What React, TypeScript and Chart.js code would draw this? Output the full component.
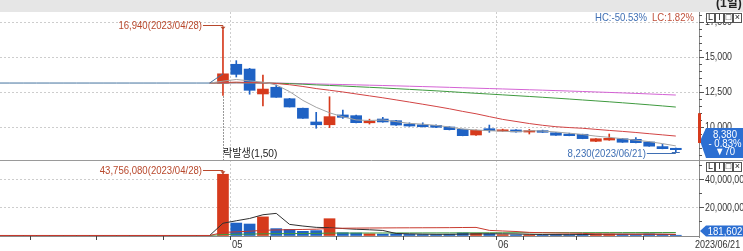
import React, { useEffect, useRef } from "react";
import { Chart, registerables } from "chart.js";
Chart.register(...registerables);

// ---------- data ----------
const tradingDays = [
  "2023/04/05", "2023/04/06", "2023/04/07", "2023/04/10", "2023/04/11", "2023/04/12", "2023/04/13", "2023/04/14",
  "2023/04/17", "2023/04/18", "2023/04/19", "2023/04/20", "2023/04/21", "2023/04/24", "2023/04/25", "2023/04/26",
  "2023/04/27", "2023/04/28", "2023/05/02", "2023/05/03", "2023/05/04", "2023/05/08", "2023/05/09", "2023/05/10",
  "2023/05/11", "2023/05/12", "2023/05/15", "2023/05/16", "2023/05/17", "2023/05/18", "2023/05/19", "2023/05/22",
  "2023/05/23", "2023/05/24", "2023/05/25", "2023/05/26", "2023/05/30", "2023/05/31", "2023/06/01", "2023/06/02",
  "2023/06/05", "2023/06/07", "2023/06/08", "2023/06/09", "2023/06/12", "2023/06/13", "2023/06/14", "2023/06/15",
  "2023/06/16", "2023/06/19", "2023/06/20", "2023/06/21",
];
const firstTradeDay = "2023/04/28";
const haltedPrice = 13140;

const opens = [13120, 14480, 14140, 12360, 12840, 12020, 11340, 10360, 10160, 10860, 10810, 10300, 10570, 10450, 10210, 10160, 10120, 10000, 9840, 9430, 9880, 9710, 9790, 9640, 9740, 9590, 9500, 9480, 8980, 9070, 9160, 9120, 8930, 8600, 8480];
const highs = [16940, 14740, 14190, 13710, 13000, 12050, 11360, 11050, 12160, 11210, 10850, 10560, 10690, 10470, 10300, 10300, 10150, 10020, 9850, 9800, 10140, 9850, 9820, 9830, 9780, 9600, 9560, 9490, 9170, 9500, 9180, 9240, 8940, 8780, 8500];
const lows = [12250, 13570, 12340, 11500, 12120, 11430, 10620, 9910, 9950, 10620, 10300, 10210, 10340, 10120, 10050, 10000, 9960, 9790, 9370, 9400, 9620, 9690, 9630, 9500, 9610, 9400, 9370, 9160, 8950, 9050, 8900, 8870, 8620, 8440, 8230];
const closes = [13800, 13760, 12620, 12710, 12120, 11430, 10620, 10160, 10740, 10690, 10310, 10420, 10360, 10140, 10070, 10020, 9980, 9810, 9380, 9760, 9740, 9800, 9650, 9740, 9620, 9410, 9380, 9170, 9160, 9190, 8910, 8880, 8630, 8450, 8380];
const volumes = [43756080, 8900000, 8200000, 13300000, 4900000, 4400000, 3000000, 3500000, 12000000, 2000000, 1800000, 1200000, 1000000, 1200000, 800000, 700000, 700000, 900000, 1800000, 1500000, 1200000, 600000, 500000, 600000, 500000, 800000, 600000, 1000000, 1200000, 1000000, 900000, 700000, 1100000, 800000, 181602];

const priceTicks = [10000, 12500, 15000, 17500];
const volumeTicks = [20000000, 40000000];
const priceMaPeriods = [5, 20, 60, 120];
const volumeMaPeriods = [5, 20, 60];
const ratingLabel = "(1일)";
const eventLabel = "락발생(1,50)";

// ---------- helpers ----------
const RED = "#d63a1c";
const BLUE = "#1f62c4";
const FONT = '"Liberation Sans", Arial, "Noto Sans CJK KR", sans-serif';

function movingAverage(series: number[], period: number) {
  return series.map((_, i) => {
    let s = 0;
    for (let j = i - period + 1; j <= i; j++) s += series[Math.max(j, 0)];
    return s / period;
  });
}
const fmt = (v: number) => Math.round(v).toLocaleString("en-US");

function txt(ctx: CanvasRenderingContext2D, s: string, x: number, y: number, o: any = {}) {
  const size = o.size ?? 11;
  const sx = o.sx ?? 0.87;
  ctx.save();
  ctx.font = `${o.bold ? "bold " : ""}${size}px ${FONT}`;
  ctx.fillStyle = o.color ?? "#333";
  ctx.textBaseline = "middle";
  ctx.textAlign = "left";
  const w = ctx.measureText(s).width * sx;
  const x0 = o.align === "right" ? x - w : o.align === "center" ? x - w / 2 : x;
  ctx.translate(x0, y);
  ctx.scale(sx, 1);
  ctx.fillText(s, 0, 0);
  ctx.restore();
  return w;
}

export default function App() {
  const ref = useRef<HTMLCanvasElement>(null);

  useEffect(() => {
    const canvas = ref.current!;
    const first = tradingDays.indexOf(firstTradeDay);
    const n = tradingDays.length;
    const fullCloses = tradingDays.map((_, i) => (i < first ? haltedPrice : closes[i - first]));
    const fullVolumes = tradingDays.map((_, i) => (i < first ? 0 : volumes[i - first]));
    const idx = closes.map((_, k) => k + first);
    const up = closes.map((c, k) => c >= opens[k]);
    const colors = up.map((u) => (u ? RED : BLUE));

    const priceMa = priceMaPeriods.map((p) => movingAverage(fullCloses, p));
    const volMa = volumeMaPeriods.map((p) => movingAverage(fullVolumes, p));
    const toPts = (arr: number[], from: number) => arr.map((v, i) => ({ x: i, y: v })).filter((p) => p.x >= from);

    const priceMaColors = ["#a3a3a3", "#d24444", "#3f9a3f", "#d462d4"];
    const volMaColors = ["#303030", "#c83a2e", "#3f9a3f"];

    const lineDs = (data: any[], color: string, axis: string) => ({
      type: "line" as const,
      data,
      borderColor: color,
      borderWidth: 1,
      pointRadius: 0,
      tension: 0,
      yAxisID: axis,
    });

    const datasets: any[] = [
      lineDs(toPts(fullCloses, 0).filter((p) => p.x <= first), "#44729e", "y"),
      lineDs(toPts(priceMa[0], first - 1), priceMaColors[0], "y"),
      lineDs(toPts(priceMa[1], first - 1), priceMaColors[1], "y"),
      lineDs(toPts(priceMa[2], first - 1), priceMaColors[2], "y"),
      lineDs(toPts(priceMa[3], first - 1), priceMaColors[3], "y"),
      {
        type: "bar",
        data: idx.map((x, k) => ({ x, y: [opens[k], closes[k]] })),
        backgroundColor: colors,
        barThickness: 11,
        grouped: false,
        minBarLength: 1,
        borderWidth: 0,
        yAxisID: "y",
      },
      {
        type: "bar",
        data: idx.map((x, k) => ({ x, y: [lows[k], highs[k]] })),
        backgroundColor: colors,
        barThickness: 1,
        grouped: false,
        borderWidth: 0,
        yAxisID: "y",
      },
      lineDs(toPts(volMa[1], 0), volMaColors[1], "yv"),
      lineDs(toPts(volMa[0], 0), volMaColors[0], "yv"),
      lineDs(toPts(volMa[2], 0), volMaColors[2], "yv"),
      {
        type: "bar",
        data: idx.map((x, k) => ({ x, y: volumes[k] })),
        backgroundColor: colors,
        barThickness: 11,
        grouped: false,
        borderWidth: 0,
        yAxisID: "yv",
      },
    ];

    const deco = {
      id: "deco",
      beforeDatasetsDraw(chart: any) {
        const { ctx, scales } = chart;
        const xs = scales.x, ys = scales.y, yv = scales.yv;
        ctx.save();
        ctx.lineWidth = 1;
        ctx.strokeStyle = "#cdcdcd";
        ctx.setLineDash([2, 2]);
        for (const t of priceTicks) {
          const y = Math.round(ys.getPixelForValue(t)) + 0.5;
          ctx.beginPath(); ctx.moveTo(0, y); ctx.lineTo(699, y); ctx.stroke();
        }
        for (const t of volumeTicks) {
          const y = Math.round(yv.getPixelForValue(t)) + 0.5;
          ctx.beginPath(); ctx.moveTo(0, y); ctx.lineTo(699, y); ctx.stroke();
        }
        for (let i = 1; i < n; i++) {
          if (tradingDays[i].slice(5, 7) !== tradingDays[i - 1].slice(5, 7)) {
            const x = Math.round(xs.getPixelForValue(i - 0.5)) + 0.5;
            ctx.beginPath(); ctx.moveTo(x, 12); ctx.lineTo(x, 236); ctx.stroke();
          }
        }
        ctx.restore();
      },
      afterDraw(chart: any) {
        const { ctx, scales } = chart;
        const xs = scales.x, ys = scales.y, yv = scales.yv;
        ctx.save();
        // pane separator
        ctx.strokeStyle = "#9a9a9a";
        ctx.lineWidth = 1;
        ctx.beginPath(); ctx.moveTo(0, 160.5); ctx.lineTo(743, 160.5); ctx.stroke();
        // right axis line
        ctx.strokeStyle = "#8a8a8a";
        ctx.beginPath(); ctx.moveTo(699.5, 12); ctx.lineTo(699.5, 238); ctx.stroke();
        // bottom axis line
        ctx.beginPath(); ctx.moveTo(0, 236.5); ctx.lineTo(699, 236.5); ctx.stroke();

        // price axis ticks & labels
        ctx.strokeStyle = "#555";
        for (let v = 8000; v <= 18000; v += 500) {
          const y = Math.round(ys.getPixelForValue(v)) + 0.5;
          if (y > 159 || y < 12) continue;
          ctx.beginPath(); ctx.moveTo(699, y); ctx.lineTo(priceTicks.includes(v) ? 704 : 702, y); ctx.stroke();
        }
        for (const t of priceTicks) txt(ctx, fmt(t), 705, ys.getPixelForValue(t), { color: "#333", sx: 0.8 });
        for (let v = 10000000; v <= 50000000; v += 10000000) {
          const y = Math.round(yv.getPixelForValue(v)) + 0.5;
          if (y < 162) continue;
          ctx.beginPath(); ctx.moveTo(699, y); ctx.lineTo(volumeTicks.includes(v) ? 704 : 702, y); ctx.stroke();
        }
        for (const t of volumeTicks) txt(ctx, fmt(t), 705, yv.getPixelForValue(t), { color: "#333", sx: 0.8 });

        // x axis ticks and month labels
        for (let i = 1; i < n; i++) {
          const a = tradingDays[i - 1].split("/").map(Number);
          const b = tradingDays[i].split("/").map(Number);
          const da = new Date(a[0], a[1] - 1, a[2]);
          const db = new Date(b[0], b[1] - 1, b[2]);
          const newWeek = db.getDay() <= da.getDay() || (db.getTime() - da.getTime()) / 864e5 >= 7;
          const newMonth = a[1] !== b[1];
          const x = Math.round(xs.getPixelForValue(i - 0.5)) + 0.5;
          if (newWeek || newMonth) {
            ctx.strokeStyle = "#444";
            ctx.beginPath(); ctx.moveTo(x, 236); ctx.lineTo(x, 240); ctx.stroke();
          }
          if (newMonth) txt(ctx, String(b[1]).padStart(2, "0"), x + 1.5, 244.5, { color: "#333", sx: 0.85 });
        }
        txt(ctx, tradingDays[n - 1], 695, 244.5, { color: "#333", sx: 0.82 });

        // high annotation
        let hi = 0;
        highs.forEach((h, k) => { if (h > highs[hi]) hi = k; });
        const hx = xs.getPixelForValue(hi + first);
        const hy = ys.getPixelForValue(highs[hi]);
        const annColor = "#b8482c";
        ctx.strokeStyle = annColor; ctx.fillStyle = annColor;
        const hly = Math.round(hy - 5) + 0.5;
        txt(ctx, `${fmt(highs[hi])}(${tradingDays[hi + first]})`, hx - 21, hly, { color: annColor, size: 11, sx: 0.87, align: "right" });
        ctx.beginPath(); ctx.moveTo(hx - 20, hly); ctx.lineTo(hx, hly); ctx.lineTo(hx, hy); ctx.stroke();
        ctx.beginPath(); ctx.moveTo(hx - 2.5, hy - 3); ctx.lineTo(hx + 2.5, hy - 3); ctx.lineTo(hx, hy); ctx.fill();

        // max volume annotation
        let vi = 0;
        volumes.forEach((v, k) => { if (v > volumes[vi]) vi = k; });
        const vx = xs.getPixelForValue(vi + first);
        const vy = yv.getPixelForValue(volumes[vi]);
        const vly = Math.round(vy - 4) + 0.5;
        txt(ctx, `${fmt(volumes[vi])}(${tradingDays[vi + first]})`, vx - 21, vly, { color: annColor, size: 11, sx: 0.87, align: "right" });
        ctx.beginPath(); ctx.moveTo(vx - 20, vly); ctx.lineTo(vx, vly); ctx.lineTo(vx, vy); ctx.stroke();
        ctx.beginPath(); ctx.moveTo(vx - 2.5, vy - 3); ctx.lineTo(vx + 2.5, vy - 3); ctx.lineTo(vx, vy); ctx.fill();

        // low annotation
        let lo = 0;
        lows.forEach((l, k) => { if (l < lows[lo]) lo = k; });
        const lx = xs.getPixelForValue(lo + first);
        const ly = ys.getPixelForValue(lows[lo]);
        const lowColor = "#3f6fb4";
        const lly = Math.round(ly + 1.5) + 0.5;
        ctx.strokeStyle = lowColor;
        txt(ctx, `${fmt(lows[lo])}(${tradingDays[lo + first]})`, lx - 30, lly, { color: lowColor, size: 11, sx: 0.87, align: "right" });
        ctx.beginPath(); ctx.moveTo(lx - 29, lly); ctx.lineTo(lx, lly); ctx.stroke();
        ctx.beginPath(); ctx.moveTo(lx - 4, Math.round(ly) + 0.5); ctx.lineTo(lx + 4, Math.round(ly) + 0.5); ctx.stroke();

        // event dotted line and label
        const ex = Math.round(xs.getPixelForValue(first)) + 0.5;
        ctx.strokeStyle = "#333";
        ctx.setLineDash([1, 2]);
        ctx.beginPath(); ctx.moveTo(ex, ys.getPixelForValue(lows[0]) + 1); ctx.lineTo(ex, 160); ctx.stroke();
        ctx.setLineDash([]);
        txt(ctx, eventLabel, ex - 0.5, 154, { color: "#222", size: 11, sx: 0.92 });

        // HC / LC
        const last = closes[closes.length - 1];
        const hc = (last / highs[hi] - 1) * 100;
        const lc = (last / lows[lo] - 1) * 100;
        txt(ctx, `HC:${hc.toFixed(2)}%`, 595, 17.5, { color: "#3f6fb4", sx: 0.87 });
        txt(ctx, `LC:${lc.toFixed(2)}%`, 652, 17.5, { color: "#c0503a", sx: 0.87 });

        // price tag
        const prev = closes[closes.length - 2];
        const chg = last - prev;
        const py = ys.getPixelForValue(last);
        const tagC = Math.min(py, 158 - 15);
        ctx.fillStyle = "#2c6fd2";
        ctx.beginPath();
        ctx.moveTo(700, tagC - 2); ctx.lineTo(706, tagC - 15); ctx.lineTo(743, tagC - 15);
        ctx.lineTo(743, tagC + 15); ctx.lineTo(706, tagC + 15); ctx.closePath(); ctx.fill();
        txt(ctx, fmt(last), 725, tagC - 8, { color: "#fff", align: "center", sx: 0.87 });
        txt(ctx, `- ${Math.abs((chg / prev) * 100).toFixed(2)}%`, 725, tagC + 0.5, { color: "#fff", align: "center", sx: 0.87 });
        txt(ctx, `▼${Math.abs(chg)}`, 725, tagC + 9, { color: "#fff", align: "center", sx: 0.87 });
        // daily range bar on axis
        ctx.fillStyle = RED;
        ctx.fillRect(698, ys.getPixelForValue(prev * 1.3), 3, ys.getPixelForValue(8860) - ys.getPixelForValue(prev * 1.3));

        // volume tag
        const lastVol = volumes[volumes.length - 1];
        const vty = Math.min(yv.getPixelForValue(lastVol), 236.5 - 5.5);
        ctx.fillStyle = "#2c6fd2";
        ctx.beginPath();
        ctx.moveTo(700, vty); ctx.lineTo(706, vty - 5.5); ctx.lineTo(743, vty - 5.5);
        ctx.lineTo(743, vty + 5.5); ctx.lineTo(706, vty + 5.5); ctx.closePath(); ctx.fill();
        txt(ctx, fmt(lastVol), 725, vty + 0.5, { color: "#fff", align: "center", sx: 0.87 });

        // pane buttons
        const buttons = ["L", "I", "□", "×"];
        for (const by of [13, 162]) {
          buttons.forEach((b, k) => {
            const bx = 706 + k * 9;
            ctx.fillStyle = "#fff";
            ctx.fillRect(bx, by, 8, 9);
            ctx.strokeStyle = "#555";
            ctx.strokeRect(bx + 0.5, by + 0.5, 8, 9);
            txt(ctx, b, bx + 4.5, by + 5, { color: "#222", align: "center", size: 9, sx: 1 });
          });
        }

        // header band
        ctx.fillStyle = "#e6e6e6";
        ctx.fillRect(0, 0, 743, 12);
        txt(ctx, ratingLabel, 716, 4, { color: "#222", bold: true, size: 12, sx: 1 });
        ctx.restore();
      },
    };

    const chart = new Chart(canvas, {
      type: "bar",
      data: { datasets },
      options: {
        animation: false,
        responsive: false,
        devicePixelRatio: 1,
        events: [],
        layout: { padding: { left: 0, right: 44, top: 12, bottom: 13 } },
        plugins: { legend: { display: false }, tooltip: { enabled: false } },
        scales: {
          x: { type: "linear", min: 0.26, max: 52.74, display: false, offset: false },
          y: { type: "linear", min: 2071.4, max: 18214.3, display: false },
          yv: { type: "linear", min: -1786000, max: 159640000, display: false },
        },
      },
      plugins: [deco],
    } as any);
    return () => chart.destroy();
  }, []);

  return (
    <div style={{ position: "fixed", left: 0, top: 0, width: 743, height: 251, background: "#fff" }}>
      <canvas ref={ref} width={743} height={251} style={{ display: "block", width: 743, height: 251 }} />
    </div>
  );
}
